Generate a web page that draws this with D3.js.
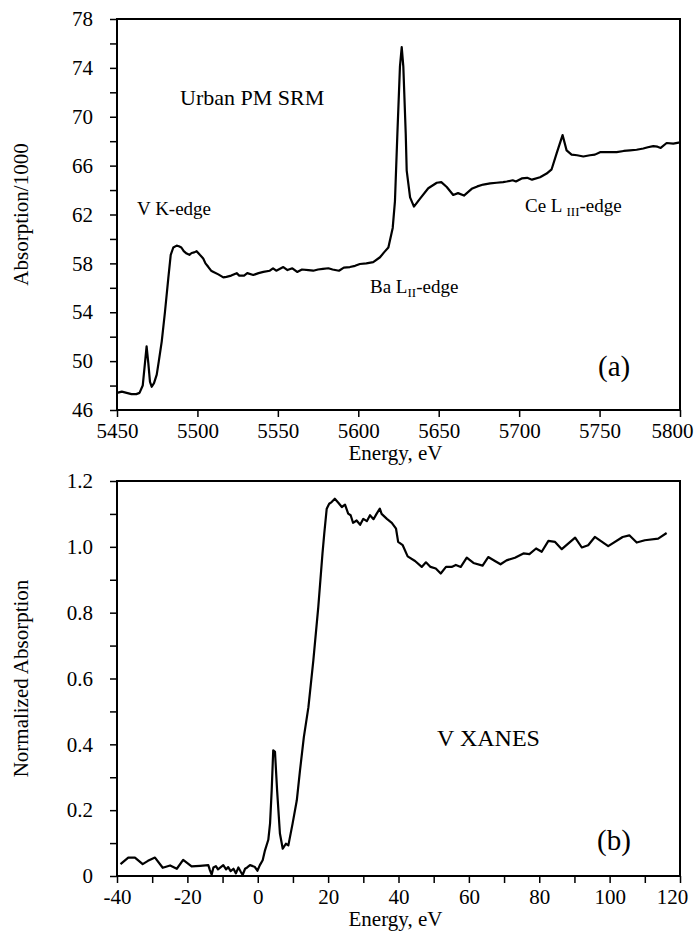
<!DOCTYPE html>
<html>
<head>
<meta charset="utf-8">
<script src="https://cdn.jsdelivr.net/npm/d3@7"></script>
<style>
  body { margin: 0; background: #fff; }
  svg text { font-family: "Liberation Serif", "Times New Roman", serif; fill: #000; }
  .axis path, .axis line { stroke: #000; stroke-width: 1.5; }
  .axis text { font-size: 21px; }
</style>
</head>
<body>
<div id="chart"></div>
<script>
// panel (a) - urban PM SRM, absorption/1000 vs energy
let topEnergy = [5450, 5453, 5456, 5459, 5462, 5464, 5466, 5467.5, 5468.4, 5469.5, 5470.5, 5471.6, 5473,
  5474.7, 5476, 5477.8, 5479.8, 5481.9, 5483.4, 5485, 5487.1, 5488.5, 5490, 5491.5, 5493.3, 5495, 5496.4,
  5498, 5499.5, 5501.5, 5503.6, 5505, 5506.8, 5508.5, 5510, 5513, 5516.1, 5518, 5521, 5524.4, 5526, 5529,
  5531, 5534.7, 5538, 5541, 5545, 5547, 5549, 5553.4, 5556, 5559, 5562, 5565, 5569, 5572, 5575, 5578,
  5581.4, 5584, 5588, 5591, 5594.8, 5598, 5601, 5605, 5609.3, 5613.5, 5616, 5618.7, 5621.4, 5622.8,
  5624.3, 5625.9, 5627, 5628, 5629.5, 5630.1, 5632.2, 5634.6, 5638.4, 5643.5, 5648.8, 5651.6, 5655, 5659,
  5662, 5665.7, 5670.5, 5674, 5677.7, 5682, 5686, 5690, 5692.3, 5696, 5698, 5701.6, 5705, 5708, 5713,
  5717.1, 5720.2, 5723.3, 5727, 5729.5, 5732.6, 5736, 5739.9, 5744, 5747.1, 5750.3, 5755, 5760.6, 5765,
  5768.9, 5773, 5777.2, 5780, 5783.4, 5786, 5788, 5791.7, 5795.8, 5800]
let topAbs = [47.4, 47.5, 47.4, 47.3, 47.3, 47.4, 48.0, 50.0, 51.2, 49.8, 48.3, 47.9, 48.2,
  48.9, 50.0, 51.6, 54.0, 56.8, 58.7, 59.3, 59.45, 59.4, 59.3, 59.0, 58.8, 58.7, 58.85,
  58.9, 59.0, 58.7, 58.4, 58.0, 57.7, 57.4, 57.3, 57.1, 56.85, 56.9, 57.0, 57.2, 57.0, 57.0,
  57.2, 57.05, 57.2, 57.3, 57.4, 57.6, 57.4, 57.7, 57.45, 57.6, 57.3, 57.5, 57.45, 57.4, 57.5, 57.55,
  57.6, 57.5, 57.4, 57.65, 57.7, 57.8, 57.95, 58.0, 58.1, 58.5, 58.9, 59.3, 60.9, 63.1,
  68.6, 74.1, 75.7, 74.1, 68.6, 65.6, 63.4, 62.65, 63.3, 64.15, 64.6, 64.65, 64.25, 63.6,
  63.75, 63.55, 64.1, 64.3, 64.45, 64.55, 64.6, 64.65, 64.7, 64.8, 64.7, 64.95, 65.0, 64.85, 65.05,
  65.35, 65.7, 67.0, 68.5, 67.25, 66.9, 66.85, 66.75, 66.85, 66.9, 67.1, 67.1, 67.1, 67.2,
  67.25, 67.3, 67.4, 67.5, 67.6, 67.55, 67.45, 67.85, 67.8, 67.9]

// panel (b) - V XANES, normalized absorption vs relative energy
let xanesEnergy = [-39, -36.8, -34.9, -32.7, -31.2, -29.2, -27.0, -24.9, -23.0, -21.2, -18.8, -16.4, -14.05,
  -13.6, -13.1, -12.6, -11.9, -11.3, -10.5, -9.8, -9.0, -8.4, -7.7, -6.9, -6.2, -5.5, -4.8, -4.3, -3.6,
  -3.0, -2.2, -1.4, -0.8, -0.1, 0.6, 1.4, 2.06, 3.0, 3.5, 3.96, 4.4, 4.9, 5.5, 6.3, 7.1, 8.0, 8.7, 9.9,
  11.1, 12.0, 13.1, 14.4, 15.8, 17.2, 18.4, 18.9, 19.6, 20.3, 21.0, 21.9, 22.9, 23.9, 24.8, 25.7, 26.4,
  27.1, 28.1, 29.1, 30.0, 31.0, 31.9, 32.9, 33.8, 34.7, 35.2, 36.7, 38.1, 39.3, 39.9, 41.2, 42.6, 44.7,
  46.6, 47.8, 49.1, 50.6, 52.0, 53.5, 55.1, 56.3, 57.7, 59.4, 61.3, 63.9, 65.5, 67.4, 69.0, 70.7, 73.1,
  75.5, 77.2, 79.1, 80.7, 82.6, 84.5, 86.4, 90.2, 92.1, 93.9, 95.8, 99.6, 103.7, 105.6, 107.7, 110.0,
  113.8, 116.2]
let xanesNorm = [0.036, 0.056, 0.056, 0.036, 0.046, 0.056, 0.025, 0.032, 0.022, 0.049, 0.029, 0.031, 0.033,
  0.018, 0.004, 0.026, 0.03, 0.02, 0.027, 0.033, 0.02, 0.027, 0.015, 0.022, 0.008, 0.026, 0.012, 0.003, 0.022,
  0.026, 0.033, 0.03, 0.027, 0.016, 0.033, 0.048, 0.078, 0.11, 0.16, 0.26, 0.382, 0.377, 0.26, 0.129, 0.083, 0.098, 0.093, 0.159,
  0.23, 0.32, 0.422, 0.513, 0.655, 0.817, 0.98, 1.04, 1.116, 1.131, 1.136, 1.146, 1.134, 1.121, 1.128, 1.101, 1.096,
  1.073, 1.08, 1.067, 1.085, 1.078, 1.096, 1.084, 1.101, 1.116, 1.1, 1.085, 1.073, 1.055, 1.015, 1.005, 0.971, 0.957,
  0.939, 0.953, 0.939, 0.934, 0.919, 0.939, 0.939, 0.945, 0.939, 0.967, 0.951, 0.943, 0.969, 0.957, 0.947, 0.959, 0.967,
  0.98, 0.978, 0.995, 0.985, 1.018, 1.015, 0.993, 1.028, 0.998, 1.005, 1.03, 1.002, 1.03, 1.035, 1.013, 1.02,
  1.025, 1.042]

let topXTicks = d3.range(5450, 5801, 50)
let topYTicks = d3.range(46, 79, 2)
let botXTicks = d3.range(-40, 121, 10)
let botYTicks = d3.range(0, 13).map(d => d / 10)

let svg = d3.select('#chart')
  .append('svg')
  .attr('width', 696)
  .attr('height', 935)

function panel(box, xDomain, yDomain, xTicks, yTicks, xFmt, yFmt, xs, ys, yTitle) {
  let g = svg.append('g')
  let x = d3.scaleLinear().domain(xDomain).range([box.left, box.right])
  let y = d3.scaleLinear().domain(yDomain).range([box.bottom, box.top])

  g.append('rect')
    .attr('x', box.left)
    .attr('y', box.top)
    .attr('width', box.right - box.left)
    .attr('height', box.bottom - box.top)
    .attr('fill', 'none')
    .attr('stroke', '#000')
    .attr('stroke-width', 2)

  let xAxis = g.append('g')
    .attr('class', 'axis x-axis')
    .attr('transform', 'translate(0,' + box.bottom + ')')
    .call(d3.axisBottom(x).tickValues(xTicks).tickFormat(xFmt).tickSize(7).tickPadding(6).tickSizeOuter(0))

  // keep the right-most label inside the page
  xAxis.selectAll('.tick:last-of-type text').attr('dx', -8)

  g.append('g')
    .attr('class', 'axis')
    .attr('transform', 'translate(' + box.left + ',0)')
    .call(d3.axisLeft(y).tickValues(yTicks).tickFormat(yFmt).tickSize(7).tickPadding(17).tickSizeOuter(0))

  g.selectAll('.axis .domain').remove()

  let line = d3.line()
    .x((d, i) => x(xs[i]))
    .y((d, i) => y(ys[i]))

  g.append('path')
    .datum(xs)
    .attr('d', line)
    .attr('fill', 'none')
    .attr('stroke', '#000')
    .attr('stroke-width', 2.2)
    .attr('stroke-linejoin', 'round')

  g.append('text')
    .attr('x', (box.left + box.right) / 2 - 3)
    .attr('y', box.bottom + 50)
    .attr('text-anchor', 'middle')
    .style('font-size', '21px')
    .text('Energy, eV')

  g.append('text')
    .attr('transform', 'translate(28,' + (box.top + box.bottom) / 2 + ') rotate(-90)')
    .attr('text-anchor', 'middle')
    .style('font-size', '21px')
    .text(yTitle)

  return g
}

let a = panel({ left: 117, right: 680, top: 19, bottom: 410 }, [5450, 5800], [46, 78],
  topXTicks, topYTicks, d => d, d => ((d - 46) % 4 === 0 ? d : ''),
  topEnergy, topAbs, 'Absorption/1000')

a.append('text').attr('x', 180).attr('y', 105).style('font-size', '22px').text('Urban PM SRM')
a.append('text').attr('x', 137).attr('y', 215).style('font-size', '19px').text('V K-edge')

let ba = a.append('text').attr('x', 370).attr('y', 293).style('font-size', '19px')
ba.append('tspan').text('Ba L')
ba.append('tspan').attr('dy', 4).style('font-size', '13px').text('II')
ba.append('tspan').attr('dy', -4).text('-edge')

let ce = a.append('text').attr('x', 525).attr('y', 212).style('font-size', '19px')
ce.append('tspan').text('Ce L ')
ce.append('tspan').attr('dy', 4).style('font-size', '13px').text('III')
ce.append('tspan').attr('dy', -4).text('-edge')

a.append('text').attr('x', 598).attr('y', 376).style('font-size', '29px').text('(a)')

let b = panel({ left: 117, right: 680, top: 481, bottom: 876 }, [-40, 120], [0, 1.2],
  botXTicks, botYTicks, d => (d % 20 === 0 ? d : ''),
  d => (Math.round(d * 10) % 2 === 0 ? (d === 0 ? '0' : d3.format('.1f')(d)) : ''),
  xanesEnergy, xanesNorm, 'Normalized Absorption')

b.append('text').attr('x', 437).attr('y', 746).style('font-size', '24px').text('V XANES')
b.append('text').attr('x', 597).attr('y', 850).style('font-size', '29px').text('(b)')
</script>
</body>
</html>
